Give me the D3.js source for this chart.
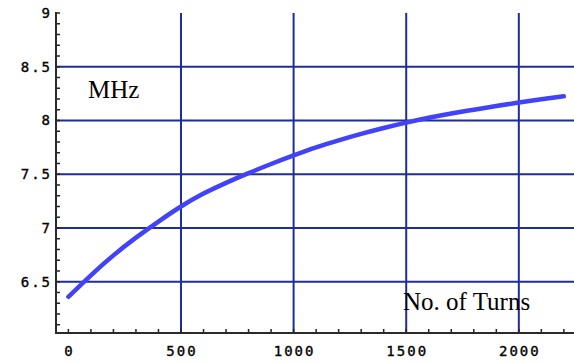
<!DOCTYPE html>
<html><head><meta charset="utf-8">
<script src="https://cdn.jsdelivr.net/npm/d3@7"></script>
<style>body{margin:0;background:#fff}svg{display:block}</style>
</head><body>
<script>
const turns = [0,100,200,300,400,500,600,700,800,900,1000,1100,1200,1300,1400,1500,1600,1700,1800,1900,2000,2100,2200];
const mhz = [6.36,6.56,6.745,6.91,7.06,7.20,7.32,7.42,7.51,7.595,7.675,7.75,7.815,7.875,7.93,7.98,8.025,8.065,8.10,8.135,8.167,8.197,8.225];
const xTickLabels = [0,500,1000,1500,2000];
const yTickLabels = [6.5,7,7.5,8,8.5,9];
const xGrid = [500,1000,1500,2000];
const yGrid = [6.5,7,7.5,8,8.5];

const W=574,H=362;
const svg=d3.select("body").append("svg").attr("width",W).attr("height",H);
const x=d3.scaleLinear().domain([-55,2245]).range([56,574]);
const y=d3.scaleLinear().domain([6.023,9]).range([333,13]);

const gridColor="#1f2d9c";
svg.append("g").selectAll("line").data(xGrid).join("line")
  .attr("x1",d=>x(d)).attr("x2",d=>x(d)).attr("y1",y(9)).attr("y2",333)
  .attr("stroke",gridColor).attr("stroke-width",2);
svg.append("g").selectAll("line").data(yGrid).join("line")
  .attr("x1",56).attr("x2",W).attr("y1",d=>y(d)).attr("y2",d=>y(d))
  .attr("stroke",gridColor).attr("stroke-width",2);

// minor ticks
const xMinor=d3.range(0,2201,100);
svg.append("g").selectAll("line").data(xMinor).join("line")
  .attr("x1",d=>x(d)).attr("x2",d=>x(d)).attr("y1",333).attr("y2",329)
  .attr("stroke","#222").attr("stroke-width",1.5);
const yMinor=d3.range(61,91,1).map(v=>v/10);
svg.append("g").selectAll("line").data(yMinor).join("line")
  .attr("x1",56).attr("x2",60).attr("y1",d=>y(d)).attr("y2",d=>y(d))
  .attr("stroke","#222").attr("stroke-width",1.5);

// axes lines
svg.append("line").attr("x1",56).attr("x2",56).attr("y1",12).attr("y2",334).attr("stroke","#2a2a2a").attr("stroke-width",2);
svg.append("line").attr("x1",55).attr("x2",W).attr("y1",333).attr("y2",333).attr("stroke","#2a2a2a").attr("stroke-width",2);

// curve
svg.append("path").datum(turns.map((t,i)=>[t,mhz[i]]))
  .attr("fill","none").attr("stroke","#4242f8").attr("stroke-width",4.5)
  .attr("stroke-linecap","round")
  .attr("d",d3.line().x(d=>x(d[0])).y(d=>y(d[1])).curve(d3.curveNatural));

// tick labels
const tf="'DejaVu Sans Mono', monospace";
svg.append("g").selectAll("text").data(xTickLabels).join("text")
  .attr("x",d=>x(d)+1).attr("y",356).attr("text-anchor","middle")
  .attr("font-family",tf).attr("font-size",14).attr("letter-spacing","2px").attr("fill","#000")
  .attr("stroke","#000").attr("stroke-width",0.35)
  .text(d=>d);
svg.append("g").selectAll("text").data(yTickLabels).join("text")
  .attr("x",52).attr("y",d=>y(d)+5).attr("text-anchor","end")
  .attr("font-family",tf).attr("font-size",14).attr("letter-spacing","2px").attr("fill","#000")
  .attr("stroke","#000").attr("stroke-width",0.35)
  .text(d=>d);

// labels
svg.append("text").attr("x",88).attr("y",98).attr("font-family","'Liberation Serif', serif")
  .attr("font-size",25).attr("fill","#000").text("MHz");
svg.append("text").attr("x",403).attr("y",310).attr("font-family","'Liberation Serif', serif")
  .attr("font-size",25).attr("fill","#000").text("No. of Turns");
</script>
</body></html>
